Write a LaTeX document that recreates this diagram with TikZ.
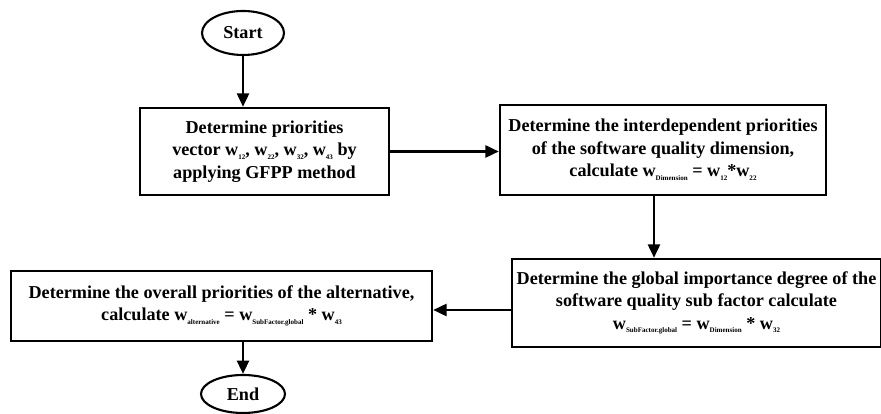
\documentclass[tikz,border=0pt]{standalone}
\usepackage{fontspec}
\setmainfont{Liberation Serif}
\usepackage{tikz}
\usetikzlibrary{shapes.geometric, arrows.meta}
\newcommand{\wsub}[1]{w\raisebox{-0.45ex}{\fontsize{6}{7}\selectfont #1}}
\tikzset{
	stepbox/.style={draw=black, line width=2.1pt, rectangle, align=center, inner sep=0pt, font=\fontsize{15.5}{19.2}\selectfont\bfseries}
}
\tikzset{
	endpoint/.style={draw=black, line width=1.8pt, ellipse, inner sep=0pt, font=\fontsize{15.5}{19.2}\selectfont\bfseries}
}
\tikzset{
	flowarrow/.style={line width=2.1pt, -{Triangle[length=0.4cm, width=0.36cm]}}
}

\begin{document}
\begin{tikzpicture}
\useasboundingbox (0,0) rectangle (26.43,12.42);

\coordinate (mStart) at (7.29,11.43);
\coordinate (mPrio) at (7.935,7.875);
\coordinate (mDim) at (19.89,7.92);
\coordinate (mGlob) at (20.895,3.33);
\coordinate (mOver) at (6.645,3.24);
\coordinate (mStop) at (7.29,0.6);

\node[endpoint, minimum width=2.46cm, minimum height=1.32cm] (start) at (mStart) {Start};
\node[stepbox, minimum width=7.47cm, minimum height=2.61cm] (prio) at (mPrio) {Determine priorities\\vector \wsub{12}, \wsub{22}, \wsub{32}, \wsub{43} by\\applying GFPP method};
\node[stepbox, minimum width=9.78cm, minimum height=2.7cm] (dim) at (mDim) {Determine the interdependent priorities\\of the software quality dimension,\\calculate \wsub{Dimension} = \wsub{12}*\wsub{22}};
\node[stepbox, minimum width=11.07cm, minimum height=2.64cm] (glob) at (mGlob) {Determine the global importance degree of the\\software quality sub factor calculate\\\wsub{SubFactor.global} = \wsub{Dimension} * \wsub{32}};
\node[stepbox, minimum width=12.63cm, minimum height=2.1cm] (over) at (mOver) {Determine the overall priorities of the alternative,\\calculate \wsub{alternative} = \wsub{SubFactor.global} * \wsub{43}};
\node[endpoint, minimum width=2.52cm, minimum height=1.14cm] (stop) at (mStop) {End};

\draw[flowarrow] (start.south) -- (start.south |- prio.north);
\draw[flowarrow] (prio.east) -- (prio.east -| dim.west);
\draw[flowarrow] ([xshift=-0.27cm]dim.south) -- ([xshift=-0.27cm]dim.south |- glob.north);
\draw[flowarrow] ([yshift=-0.21cm]glob.west) -- ([yshift=-0.21cm]glob.west -| over.east);
\draw[flowarrow] (stop.north |- over.south) -- (stop.north);

\end{tikzpicture}
\end{document}
